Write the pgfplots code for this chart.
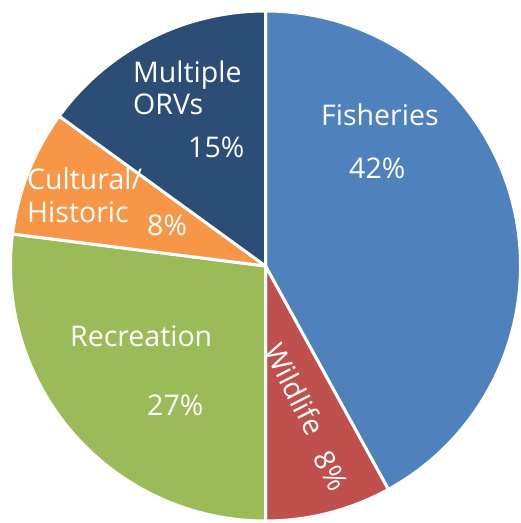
\documentclass[border=0pt]{standalone}
\usepackage{pgfplots}
\usepackage{pgfplotstable}
\pgfplotsset{compat=1.18}
\usepackage{fontspec}
\setmainfont{Open Sans}
\definecolor{c0}{HTML}{4F81BD}
\definecolor{c1}{HTML}{C0504D}
\definecolor{c2}{HTML}{9BBB59}
\definecolor{c3}{HTML}{F79646}
\definecolor{c4}{HTML}{2C4D75}
\pgfplotstableread{
label value
Fisheries 42
Wildlife 8
Recreation 27
Cultural 8
Multiple 15
}\piedata
% cumulative angles, clockwise from 90 degrees
\def\curang{90}
\foreach \i in {0,...,4}{%
  \pgfplotstablegetelem{\i}{value}\of\piedata
  \pgfmathsetmacro{\endang}{\curang-3.6*\pgfplotsretval}%
  \expandafter\xdef\csname s\i\endcsname{\curang}%
  \expandafter\xdef\csname e\i\endcsname{\endang}%
  \xdef\curang{\endang}%
}
\tikzset{lbl/.style={text=white, inner sep=0pt, font=\fontsize{28.5}{32}\selectfont}}
\begin{document}
\begin{tikzpicture}
\begin{axis}[
  x=1pt, y=1pt,
  xmin=0, xmax=521, ymin=0, ymax=523,
  hide axis, clip=false,
]
\pgfplotsinvokeforeach{0,...,4}{
  \fill[c#1, draw=white, line width=3pt, line join=round]
    (axis cs:265.5,257) -- ++(\csname s#1\endcsname:255pt)
    arc[start angle=\csname s#1\endcsname, end angle=\csname e#1\endcsname, radius=255pt] -- cycle;
}
% labels (pixel positions, y flipped)
\node[lbl, anchor=base west] at (axis cs:321,397) {Fisheries};
\node[lbl, anchor=base west] at (axis cs:349,344) {42\%};
\node[lbl, anchor=base west] at (axis cs:133,440) {Multiple};
\node[lbl, anchor=base west] at (axis cs:133,408) {ORVs};
\node[lbl, anchor=base west] at (axis cs:188,365) {15\%};
\node[lbl, anchor=base west] at (axis cs:27,333) {Cultural/};
\node[lbl, anchor=base west] at (axis cs:27,300) {Historic};
\node[lbl, anchor=base west] at (axis cs:147,287) {8\%};
\node[lbl, anchor=base west] at (axis cs:70,176) {Recreation};
\node[lbl, anchor=base west] at (axis cs:147,107) {27\%};
\node[lbl, anchor=center, rotate=-63] at (axis cs:295,134) {Wildlife};
\node[lbl, anchor=center, rotate=-63] at (axis cs:331,52) {8\%};
\end{axis}
\pgfresetboundingbox
\path[use as bounding box] (current axis.south west) rectangle (current axis.north east);
\end{tikzpicture}
\end{document}
